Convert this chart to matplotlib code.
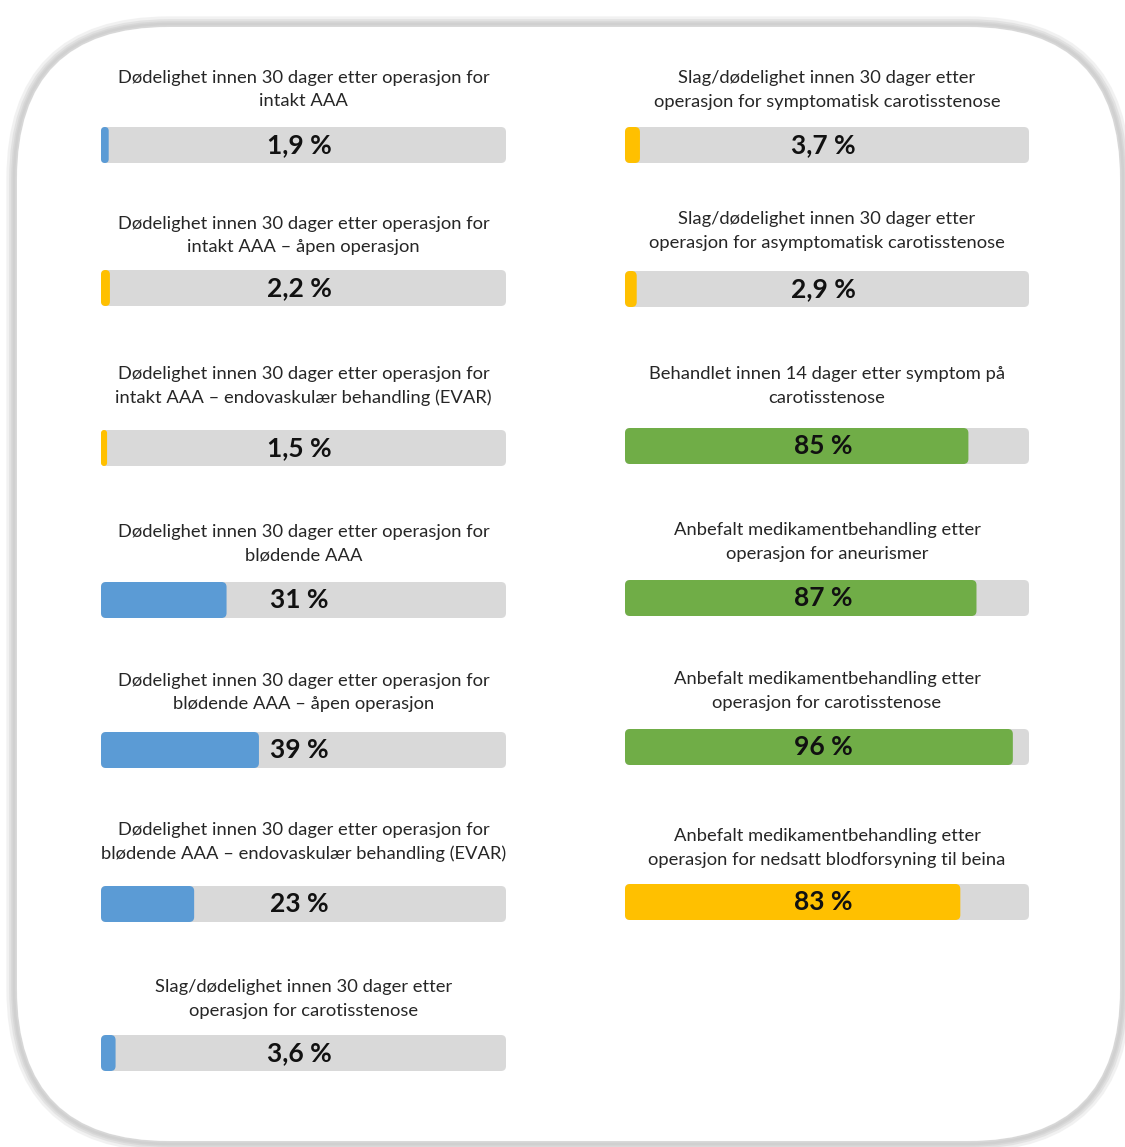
import numpy as np
import matplotlib
matplotlib.use('Agg')
import matplotlib.pyplot as plt
from matplotlib.patches import FancyBboxPatch

# 数据
titles_left = ['Dødelighet innen 30 dager etter operasjon for\nintakt AAA',
               'Dødelighet innen 30 dager etter operasjon for\nintakt AAA – åpen operasjon',
               'Dødelighet innen 30 dager etter operasjon for\nintakt AAA – endovaskulær behandling (EVAR)',
               'Dødelighet innen 30 dager etter operasjon for\nblødende AAA',
               'Dødelighet innen 30 dager etter operasjon for\nblødende AAA – åpen operasjon',
               'Dødelighet innen 30 dager etter operasjon for\nblødende AAA – endovaskulær behandling (EVAR)',
               'Slag/dødelighet innen 30 dager etter\noperasjon for carotisstenose']
values_left = [1.9, 2.2, 1.5, 31, 39, 23, 3.6]
labels_left = ['1,9 %', '2,2 %', '1,5 %', '31 %', '39 %', '23 %', '3,6 %']
status_left = ['ingen', 'moderat', 'moderat', 'ingen', 'ingen', 'ingen', 'ingen']

titles_right = ['Slag/dødelighet innen 30 dager etter\noperasjon for symptomatisk carotisstenose',
                'Slag/dødelighet innen 30 dager etter\noperasjon for asymptomatisk carotisstenose',
                'Behandlet innen 14 dager etter symptom på\ncarotisstenose',
                'Anbefalt medikamentbehandling etter\noperasjon for aneurismer',
                'Anbefalt medikamentbehandling etter\noperasjon for carotisstenose',
                'Anbefalt medikamentbehandling etter\noperasjon for nedsatt blodforsyning til beina']
values_right = [3.7, 2.9, 85, 87, 96, 83]
labels_right = ['3,7 %', '2,9 %', '85 %', '87 %', '96 %', '83 %']
status_right = ['moderat', 'moderat', 'høy', 'høy', 'høy', 'moderat']

status_colors = {'ingen': '#5B9BD5', 'moderat': '#FFC000', 'høy': '#70AD47'}

# 版面（像素）
W, H = 1125, 1147
bar_top_left = [127, 270, 430, 582, 732, 886, 1035]
bar_top_right = [127, 271, 428, 580, 729, 884]
title_off_left = [37.5, 34.5, 44, 38.5, 39.5, 44, 36]   # 标题中心到条形顶部的距离
title_off_right = [37, 40, 42, 38, 38, 36]
bar_h = 36

plt.rcParams['font.family'] = ['Lato', 'DejaVu Sans']

fig = plt.figure(figsize=(W / 100, H / 100), dpi=100)
bg = fig.add_axes([0, 0, 1, 1])
bg.set_xlim(0, W)
bg.set_ylim(H, 0)
bg.axis('off')

# 圆角外框（柔和阴影）
frame = dict(boxstyle='round,pad=0,rounding_size=155', fill=False)
for lw, c, a in [(11, '#E4E4E4', 0.5), (7, '#DDDDDD', 0.7), (4, '#D6D6D6', 0.9), (1.8, '#D0D0D0', 1.0)]:
    bg.add_patch(FancyBboxPatch((14, 24), 1109, 1120, ec=c, lw=lw, alpha=a, **frame))
bg.add_patch(FancyBboxPatch((17, 27), 1103, 1114, fc='white', ec='none',
                            boxstyle='round,pad=0,rounding_size=152'))


def draw_card(x0, width, top, off, title, value, label, status):
    ax = fig.add_axes([x0 / W, 1 - (top + bar_h) / H, width / W, bar_h / H])
    ax.set_xlim(0, 100)
    ax.set_ylim(0, 1)
    ax.axis('off')
    px_x = width / 100.0  # 每单位的像素
    aspect = (1.0 / bar_h) / (1.0 / px_x)
    r = 5 / px_x
    ax.add_patch(FancyBboxPatch((0, 0), 100, 1, boxstyle=f'round,pad=0,rounding_size={r}',
                                mutation_aspect=aspect, fc='#D9D9D9', ec='none', clip_on=False))
    rr = min(r, value / 2.0)
    ax.add_patch(FancyBboxPatch((0, 0), value, 1, boxstyle=f'round,pad=0,rounding_size={rr}',
                                mutation_aspect=aspect, fc=status_colors[status], ec='none', clip_on=False))
    ax.text(49, 0.5, label, ha='center', va='center', fontsize=19, fontweight='bold', color='#111111')
    ax.text(50, 1 + off / bar_h, title, ha='center', va='center', fontsize=13.2, color='#262626',
            linespacing=1.55)


for i in range(len(values_left)):
    draw_card(101, 405, bar_top_left[i], title_off_left[i], titles_left[i],
              values_left[i], labels_left[i], status_left[i])

for i in range(len(values_right)):
    draw_card(625, 404, bar_top_right[i], title_off_right[i], titles_right[i],
              values_right[i], labels_right[i], status_right[i])

fig.savefig('out.png', dpi=100)
